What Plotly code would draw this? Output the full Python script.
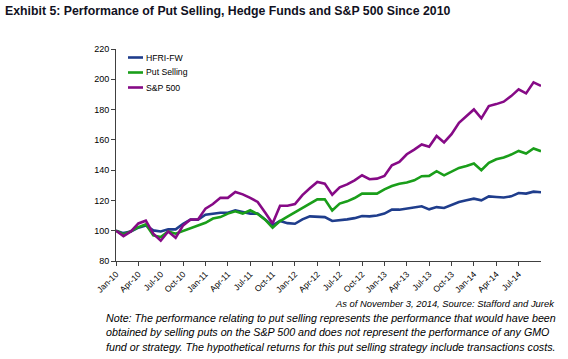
import plotly.graph_objects as go

month_names = ["Jan", "Feb", "Mar", "Apr", "May", "Jun", "Jul", "Aug", "Sep", "Oct", "Nov", "Dec"]
months = [f"{m}-{y:02d}" for y in range(10, 15) for m in month_names][:58]  # Jan-10 .. Oct-14
tick_labels = months[:55:3]  # Jan-10 .. Jul-14

hfri_fw = [100, 98.4, 99.5, 102, 103.5, 100.2, 99.5, 100.9, 100.9, 104.6,
           107.3, 107.3, 110.6, 111.3, 111.9, 111.9, 113.4, 112.3, 111.3, 111.3,
           107.5, 103.5, 106.4, 105, 104.6, 107.5, 109.5, 109.3, 109, 106.4,
           106.8, 107.5, 108.3, 109.7, 109.5, 110.1, 111.3, 113.9, 113.9, 114.6,
           115.6, 116.1, 114.1, 115.6, 115, 117.2, 118.9, 120.1, 121.2, 120.1,
           122.7, 122.3, 121.9, 122.7, 124.9, 124.5, 125.8, 125.4]

put_selling = [100, 97.5, 99.7, 102.4, 104.2, 96.9, 95.8, 99.5, 98, 99.8,
               101.6, 103.4, 105.2, 108, 109, 111.3, 112.8, 111.3, 113.5, 111,
               107.3, 102, 106.4, 109.3, 112.1, 115, 117.9, 120.7, 120.7, 113.4,
               117.9, 119.4, 121.6, 124.5, 124.5, 124.5, 127.3, 129.5, 131, 131.8,
               133.3, 136, 136.2, 139.3, 136.6, 138.8, 141.5, 142.8, 144.4, 139.9,
               144.8, 147.2, 148.3, 150.3, 152.7, 151, 154.3, 152.5]

sp500 = [100, 96.4, 99.5, 104.8, 106.6, 98, 93.4, 99.5, 95.4, 103.5,
         107.4, 107.4, 114.6, 117.6, 121.7, 121.7, 125.6, 124, 121.7, 119,
         112, 104.8, 116.5, 116.5, 117.6, 123.5, 128, 132.2, 131.1, 123.8,
         128.7, 130.6, 133.3, 136.6, 134, 134.4, 136.2, 143.2, 145.4, 150.5,
         153.6, 157, 155.4, 162.6, 158.3, 163.8, 171.3, 176, 180.1, 174.2,
         182.3, 183.6, 185.2, 188.9, 193.4, 190.7, 198, 195.6]

series_names = ["HFRI-FW", "Put Selling", "S&P 500"]
series_values = [hfri_fw, put_selling, sp500]
series_colors = ["#1F3D8C", "#1A9E1A", "#860A86"]

source_line = "As of November 3, 2014, Source: Stafford and Jurek"
note_lines = [
    "Note: The performance relating to put selling represents the performance that would have been",
    "obtained by selling puts on the S&P 500 and does not represent the performance of any GMO",
    "fund or strategy. The hypothetical returns for this put selling strategy include transactions costs.",
]

FONT = "Liberation Sans, Arial, sans-serif"
W, H = 568, 359
L, R, T, B = 116, 541, 49, 261   # plot-area edges in pixels
PW, PH = R - L, B - T

def px_x(x):
    return (x - L) / PW

def px_y(y):
    return (B - y) / PH

fig = go.Figure()
for name, vals, color in zip(series_names, series_values, series_colors):
    fig.add_trace(go.Scatter(x=months, y=vals, mode="lines", name=name,
                             line=dict(color=color, width=2.6), cliponaxis=False,
                             showlegend=False))

# compact legend, drawn like the original (short sample line, text right after)
for k, (name, color) in enumerate(zip(series_names, series_colors)):
    yk = 57.5 + 15 * k
    fig.add_shape(type="line", xref="paper", yref="paper",
                  x0=px_x(128), x1=px_x(143), y0=px_y(yk), y1=px_y(yk),
                  line=dict(color=color, width=2.6))
    fig.add_annotation(text=name, xref="paper", yref="paper",
                       x=px_x(144), y=px_y(yk), xanchor="left", yanchor="middle",
                       showarrow=False, font=dict(size=8.7, family=FONT, color="#000000"))

fig.update_layout(
    width=W, height=H,
    margin=dict(l=L, r=W - R, t=T, b=H - B),
    paper_bgcolor="white", plot_bgcolor="white",
    font=dict(family=FONT, color="#000000"),
    title=dict(text="<b>Exhibit 5: Performance of Put Selling, Hedge Funds and S&P 500 Since 2010</b>",
               xref="container", yref="container", x=5 / W, xanchor="left",
               y=1 - 11 / H, yanchor="middle",
               font=dict(size=12.3, family=FONT, color="#111122")),
    showlegend=False,
)
fig.update_xaxes(type="category", categoryorder="array", categoryarray=months,
                 tickmode="array", tickvals=tick_labels, ticktext=tick_labels,
                 range=[0, len(months) - 1], tickangle=-45,
                 showline=True, linecolor="#404040", linewidth=1,
                 ticks="outside", ticklen=4, tickcolor="#404040",
                 showgrid=False, zeroline=False,
                 tickfont=dict(size=8.5, family=FONT))
fig.update_yaxes(range=[80, 220], dtick=20, tick0=80,
                 showline=True, linecolor="#404040", linewidth=1,
                 ticks="outside", ticklen=4, tickcolor="#404040",
                 showgrid=False, zeroline=False,
                 tickfont=dict(size=9, family=FONT))

fig.add_annotation(text=f"<i>{source_line}</i>", xref="paper", yref="paper",
                   x=px_x(557), y=px_y(303), xanchor="right", yanchor="middle",
                   showarrow=False, font=dict(size=9.4, family=FONT, color="#000000"))
for k, line in enumerate(note_lines):
    fig.add_annotation(text=f"<i>{line}</i>", xref="paper", yref="paper",
                       x=px_x(104), y=px_y(317.5 + 14.5 * k),
                       xanchor="left", yanchor="middle", showarrow=False,
                       font=dict(size=10.7, family=FONT, color="#000000"))

fig.write_html("out.html", config={"displayModeBar": False},
               post_script="document.body.style.margin='0px';")
